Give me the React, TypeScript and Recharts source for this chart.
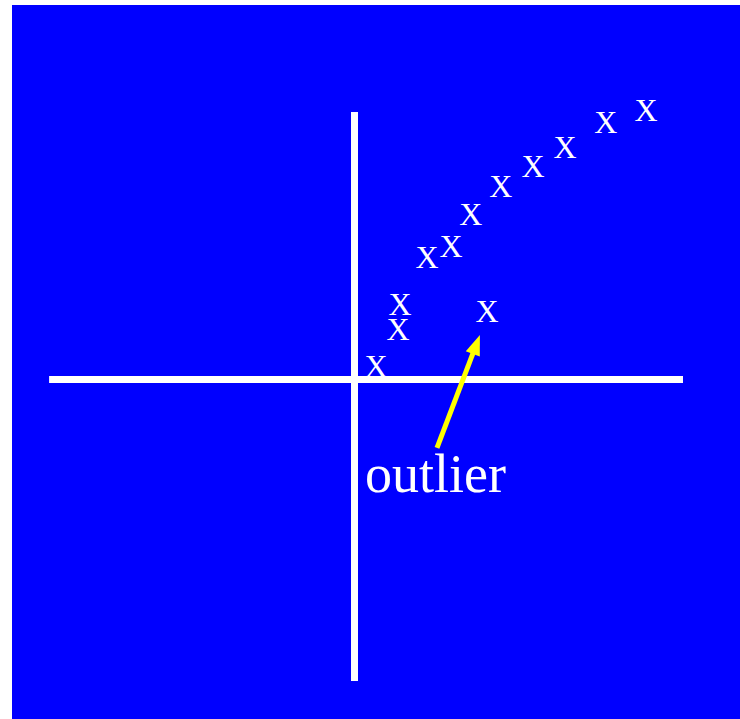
import { ReferenceDot, ReferenceLine, Scatter, ScatterChart, XAxis, YAxis } from 'recharts'

// points, in axis units (origin at the white cross)
const trendX = [0.72, 1.45, 1.52, 2.42, 3.22, 3.88, 4.88, 5.95, 7.02, 8.38, 9.72]
const trendY = [0.45, 1.68, 2.52, 4.08, 4.45, 5.52, 6.45, 7.12, 7.75, 8.58, 8.98]
const outlierX = [4.42]
const outlierY = [2.28]
const labelText = 'outlier'
const labelPos = { x: 0.35, y: -3.75 }
const arrowFrom = { x: 2.75, y: -2.28 }
const arrowTo = { x: 4.18, y: 1.48 }
const hAxis = [-10.18, 10.95]
const vAxis = [-10.05, 8.92]

const trend = trendX.map((x, i) => ({ x, y: trendY[i] }))
const outlier = outlierX.map((x, i) => ({ x, y: outlierY[i] }))

const W = 728
const H = 714
const UNIT = 30
const xDomain = [-342.5 / UNIT, (W - 342.5) / UNIT]
const yDomain = [(374.5 - H) / UNIT, 374.5 / UNIT]

const FONT = '"Liberation Serif", "Times New Roman", serif'

function Cross(props: any) {
  const { cx, cy } = props
  return (
    <text x={cx} y={cy + 11} textAnchor="middle" fontFamily={FONT} fontSize={32} fill="#ffffff">
      X
    </text>
  )
}

function Arrow(props: any) {
  const { x1, y1, x2, y2 } = props
  const dx = x2 - x1
  const dy = y2 - y1
  const len = Math.sqrt(dx * dx + dy * dy)
  const ux = dx / len
  const uy = dy / len
  const head = 20
  const half = 7.5
  const bx = x2 - ux * head
  const by = y2 - uy * head
  const pts = `${x2},${y2} ${bx - uy * half},${by + ux * half} ${bx + uy * half},${by - ux * half}`
  return (
    <g>
      <line x1={x1} y1={y1} x2={bx + ux * 2} y2={by + uy * 2} stroke="#ffff00" strokeWidth={5} />
      <polygon points={pts} fill="#ffff00" />
    </g>
  )
}

function Label(props: any) {
  const { cx, cy } = props
  return (
    <text x={cx} y={cy} fontFamily={FONT} fontSize={54} fill="#ffffff">
      {labelText}
    </text>
  )
}

export default function App() {
  return (
    <div style={{ position: 'absolute', left: 12, top: 5, width: W, height: H, background: '#0000ff' }}>
      <ScatterChart width={W} height={H} margin={{ top: 0, right: 0, bottom: 0, left: 0 }}>
        <XAxis type="number" dataKey="x" domain={xDomain} allowDataOverflow hide />
        <YAxis type="number" dataKey="y" domain={yDomain} allowDataOverflow hide />
        <ReferenceLine
          segment={[{ x: hAxis[0], y: 0 }, { x: hAxis[1], y: 0 }]}
          stroke="#ffffff"
          strokeWidth={7}
        />
        <ReferenceLine
          segment={[{ x: 0, y: vAxis[0] }, { x: 0, y: vAxis[1] }]}
          stroke="#ffffff"
          strokeWidth={7}
        />
        <Scatter data={trend} shape={Cross} isAnimationActive={false} />
        <Scatter data={outlier} shape={Cross} isAnimationActive={false} />
        <ReferenceLine segment={[arrowFrom, arrowTo]} shape={Arrow} />
        <ReferenceDot x={labelPos.x} y={labelPos.y} shape={Label} />
      </ScatterChart>
    </div>
  )
}
